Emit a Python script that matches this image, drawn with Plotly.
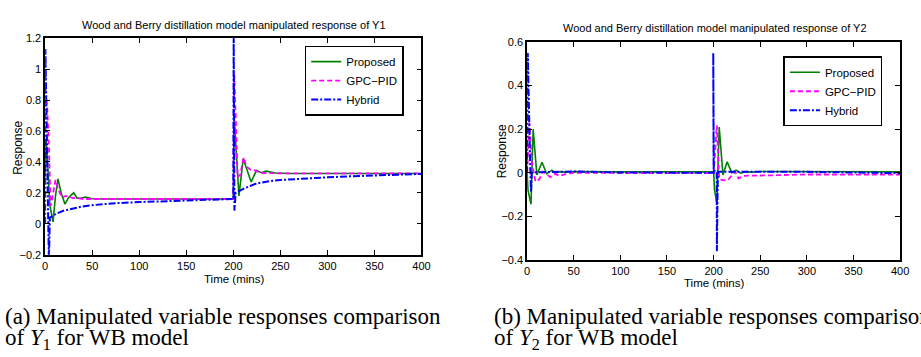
import plotly.graph_objects as go

W, H = 921, 357

# ---------------- Data: Y1 (left panel) ----------------
t1_prop = [0, 1, 3, 5, 8.4, 11, 13.6, 17, 21, 25, 30.4, 33.9, 38, 42.6, 50, 60, 100, 150, 200,
           201, 206, 210.5, 219, 224.5, 229.7, 235, 245, 260, 300, 350, 400]
y1_prop = [0.3, 0.55, 0.35, 0.12, 0.012, 0.18, 0.29, 0.2, 0.127, 0.17, 0.2, 0.165, 0.165, 0.172, 0.162, 0.16, 0.16, 0.16, 0.16,
           0.68, 0.18, 0.42, 0.27, 0.345, 0.33, 0.34, 0.328, 0.325, 0.325, 0.325, 0.325]

t1_gpc = [0, 2, 4, 5.9, 8, 11, 14, 18, 22, 26, 30, 35, 40, 60, 100, 150, 200,
          201, 203, 204.6, 207.5, 211, 214, 218, 223, 228, 235, 245, 260, 300, 400]
y1_gpc = [0.8, 0.78, 0.5, 0.116, 0.18, 0.283, 0.22, 0.17, 0.18, 0.175, 0.165, 0.165, 0.16, 0.16, 0.16, 0.16, 0.16,
          0.97, 0.6, 0.3, 0.32, 0.43, 0.37, 0.35, 0.345, 0.33, 0.328, 0.325, 0.325, 0.325, 0.325]

t1_hyb = [0, 0.3, 4, 5, 7.8, 12, 20, 30, 40, 50, 75, 100, 125, 150, 175, 200,
          200.4, 201.2, 202.5, 206, 212, 224.5, 235, 250, 275, 300, 325, 350, 375, 400]
y1_hyb = [0.0, 1.13, -0.25, 0.04, 0.05, 0.065, 0.085, 0.1, 0.112, 0.12, 0.133, 0.14, 0.146, 0.15, 0.155, 0.16,
          1.25, 0.085, 0.2, 0.21, 0.23, 0.26, 0.272, 0.283, 0.293, 0.30, 0.307, 0.313, 0.318, 0.322]

# ---------------- Data: Y2 (right panel) ----------------
t2_prop = [0, 1, 4.2, 6.5, 10.5, 16, 21, 26.6, 30.8, 35, 40, 50, 100, 150, 200,
           201, 203.5, 206, 210, 214.5, 219.5, 224, 229, 235, 240, 250, 300, 350, 400]
y2_prop = [0, -0.08, -0.145, 0.2, -0.01, 0.048, -0.005, 0.012, -0.002, 0.005, 0.003, 0.005, 0.004, 0.004, 0.004,
           -0.08, -0.14, 0.21, -0.01, 0.05, 0.0, 0.012, -0.002, 0.005, 0.003, 0.006, 0.005, 0.004, 0.004]

t2_gpc = [0, 2.5, 5, 9, 13, 17, 20, 25, 30, 35, 42, 50, 100, 150, 200,
          203.5, 206, 212, 216, 223, 226.7, 232, 243, 260, 300, 350, 400]
y2_gpc = [0.0, 0.23, 0.05, -0.04, -0.03, 0.005, -0.005, -0.02, -0.005, -0.015, -0.005, 0.0, -0.001, -0.002, -0.002,
          0.218, -0.03, -0.035, -0.03, 0.005, -0.026, -0.014, -0.014, -0.012, -0.008, -0.008, -0.009]

t2_hyb = [0, 0.7, 3.5, 4.2, 5, 10, 50, 100, 200,
          199.6, 200.2, 203.3, 203.5, 204.5, 250, 300, 400]
y2_hyb = [0.0, 0.55, 0.01, -0.09, 0.0, 0.002, 0.006, 0.001, 0.0,
          0.55, 0.01, 0.005, -0.36, 0.005, 0.005, 0.004, -0.002]

x_ticks = [0, 50, 100, 150, 200, 250, 300, 350, 400]

names = ["Proposed", "GPC\u2212PID", "Hybrid"]
colors = ["#008000", "#ff00ff", "#0000ff"]
dashes = ["solid", "5px,3px", "7px,2px,2px,2px"]
widths = [1.6, 1.8, 2.0]

fig = go.Figure()
left = [(t1_prop, y1_prop), (t1_gpc, y1_gpc), (t1_hyb, y1_hyb)]
right = [(t2_prop, y2_prop), (t2_gpc, y2_gpc), (t2_hyb, y2_hyb)]
for i, (tx, ty) in enumerate(left):
    fig.add_trace(go.Scatter(x=tx, y=ty, mode="lines", name=names[i], xaxis="x", yaxis="y",
                             line=dict(color=colors[i], width=widths[i], dash=dashes[i]), legend="legend"))
for i, (tx, ty) in enumerate(right):
    fig.add_trace(go.Scatter(x=tx, y=ty, mode="lines", name=names[i], xaxis="x2", yaxis="y2",
                             line=dict(color=colors[i], width=widths[i], dash=dashes[i]), legend="legend2"))

fam = "Liberation Sans, Arial, sans-serif"
tickfont = dict(family=fam, size=11, color="black")
axcommon = dict(showgrid=False, zeroline=False, showline=True, linecolor="black", linewidth=1.5,
                mirror="ticks", ticks="inside", ticklen=5, tickcolor="black", tickwidth=1,
                tickfont=tickfont)

def px(x):
    return x / W

def py(y):
    return 1 - y / H

legcommon = dict(xanchor="right", yanchor="top", bgcolor="white", bordercolor="black", borderwidth=1.5,
                 font=dict(family=fam, size=11.5, color="black"), tracegroupgap=0, itemwidth=30)

fig.update_layout(
    width=W, height=H, margin=dict(l=0, r=0, t=0, b=0),
    paper_bgcolor="white", plot_bgcolor="white",
    xaxis=dict(domain=[px(42.7), px(424)], range=[0, 400], tickvals=x_ticks, anchor="y", **axcommon),
    yaxis=dict(domain=[py(257.3), py(33.3)], range=[-0.2, 1.2], dtick=0.2, tick0=0, anchor="x", **axcommon),
    xaxis2=dict(domain=[px(531), px(909)], range=[0, 400], tickvals=x_ticks, anchor="y2", **axcommon),
    yaxis2=dict(domain=[py(262.7), py(37.3)], range=[-0.4, 0.6], dtick=0.2, tick0=0, anchor="x2", **axcommon),
    legend=dict(x=px(406), y=py(41), **legcommon),
    legend2=dict(x=px(891), y=py(52), **legcommon),
    showlegend=True,
)

lab = dict(family=fam, color="black")
ser = dict(family="Liberation Serif, DejaVu Serif, serif", color="black", size=23)
ann = [
    dict(text="Wood and Berry distillation model manipulated response of Y1", x=px(234), y=py(20), font=dict(size=11, **lab)),
    dict(text="Wood and Berry distillation model manipulated response of Y2", x=px(721), y=py(23), font=dict(size=11, **lab)),
    dict(text="Time (mins)", x=px(234), y=py(283), font=dict(size=11.5, **lab)),
    dict(text="Time (mins)", x=px(720), y=py(287), font=dict(size=11.5, **lab)),
    dict(text="Response", x=px(15), y=py(147), textangle=-90, font=dict(size=12, **lab)),
    dict(text="Response", x=px(506), y=py(150), textangle=-90, font=dict(size=12, **lab)),
]
for a in ann:
    a.update(xref="paper", yref="paper", showarrow=False, xanchor="center", yanchor="middle")
caps = [
    dict(text="(a) Manipulated variable responses comparison", x=px(0), y=py(321)),
    dict(text="of <i>Y</i><sub>1</sub> for WB model", x=px(0), y=py(345)),
    dict(text="(b) Manipulated variable responses comparison", x=px(495), y=py(321)),
    dict(text="of <i>Y</i><sub>2</sub> for WB model", x=px(495), y=py(345)),
]
for c in caps:
    c.update(xref="paper", yref="paper", showarrow=False, xanchor="left", yanchor="middle", font=ser)
fig.update_layout(annotations=ann + caps)

fig.write_html("out.html")
